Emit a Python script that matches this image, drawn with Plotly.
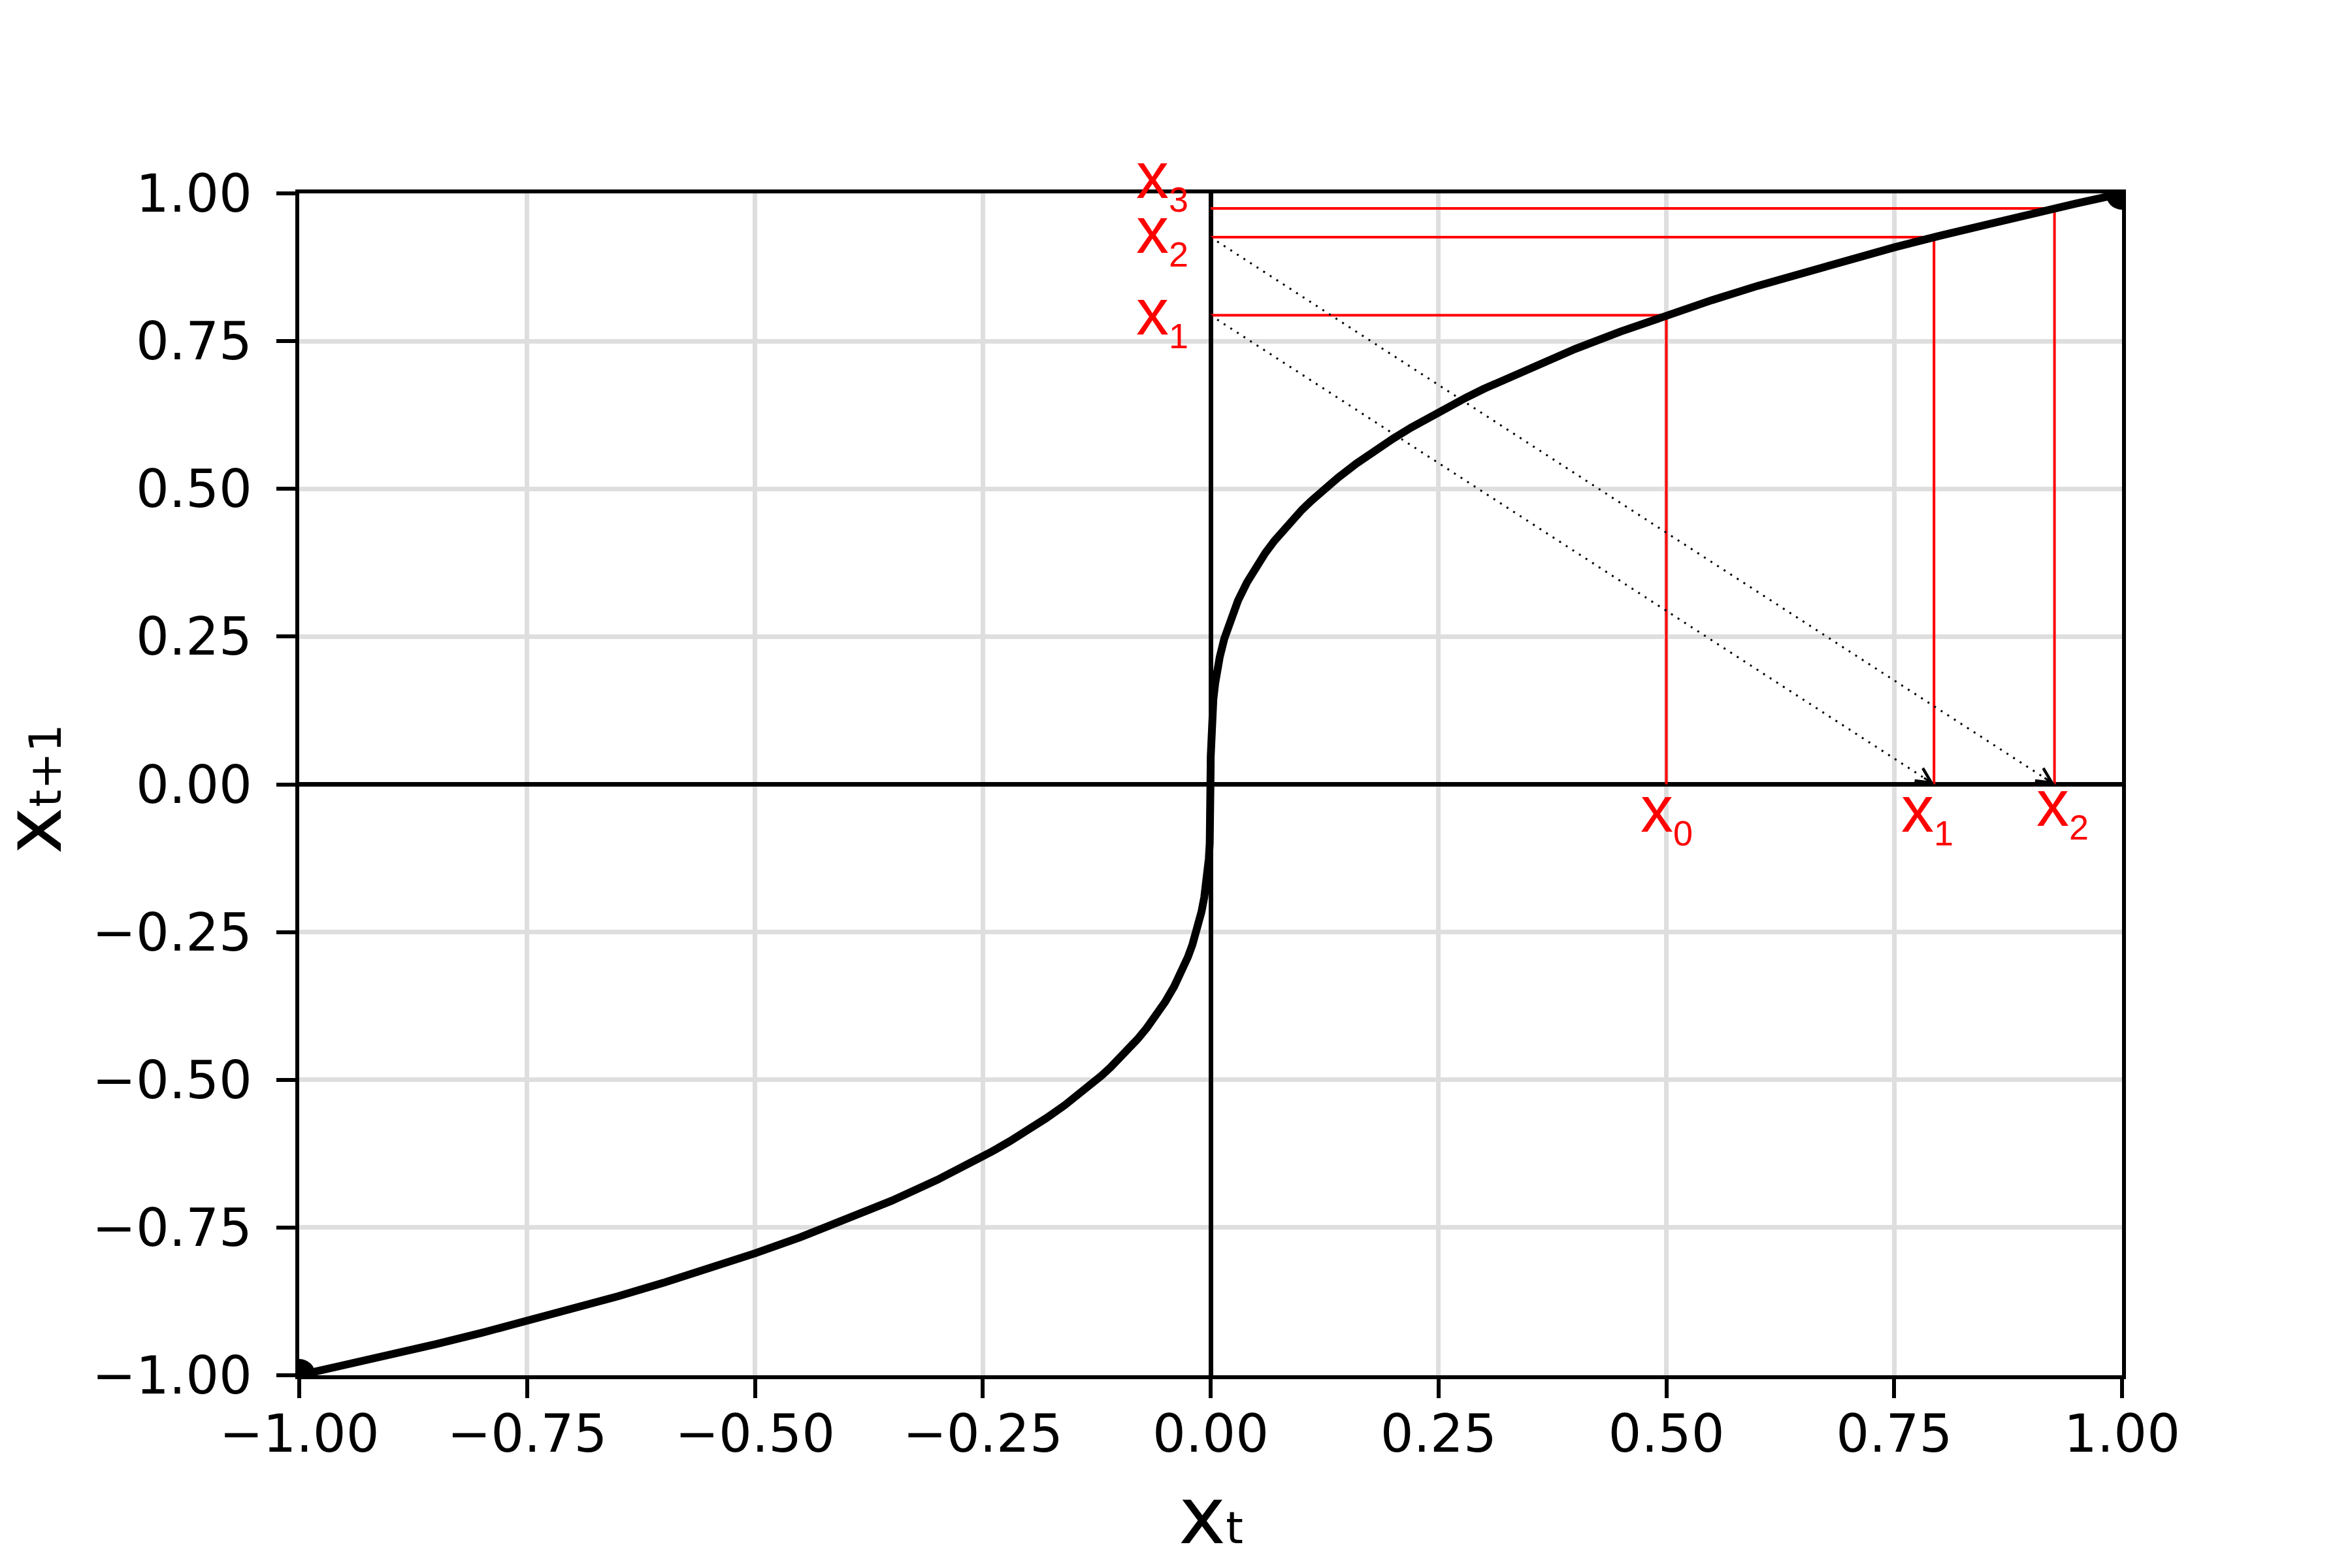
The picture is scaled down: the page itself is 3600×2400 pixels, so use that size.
import plotly.graph_objects as go

# curve points (x_t, x_t+1)
curve_x = [-1.0, -0.95, -0.9, -0.85, -0.8, -0.75, -0.7, -0.65, -0.6, -0.55, -0.5, -0.45,
           -0.4, -0.35, -0.3, -0.28, -0.26, -0.24, -0.22, -0.2, -0.18, -0.16, -0.14, -0.12,
           -0.11, -0.1, -0.09, -0.08, -0.07, -0.06, -0.05, -0.04, -0.03, -0.025, -0.02,
           -0.015, -0.01, -0.007, -0.005, -0.003, -0.002, -0.001, -0.0005, -0.0002,
           -0.0001, -0.00003, -0.00001, 0.0,
           0.00001, 0.00003, 0.0001, 0.0002, 0.0005, 0.001, 0.002, 0.003, 0.005, 0.007,
           0.01, 0.015, 0.02, 0.025, 0.03, 0.04, 0.05, 0.06, 0.07, 0.08, 0.09, 0.1, 0.11,
           0.12, 0.14, 0.16, 0.18, 0.2, 0.22, 0.24, 0.26, 0.28, 0.3, 0.35, 0.4, 0.45, 0.5,
           0.55, 0.6, 0.65, 0.7, 0.75, 0.8, 0.85, 0.9, 0.95, 1.0]
curve_y = [-1.0, -0.983, -0.9655, -0.9473, -0.9283, -0.9086, -0.8879, -0.8662, -0.8434,
           -0.8193, -0.7937, -0.7663, -0.7368, -0.7047, -0.6694, -0.6542, -0.6383, -0.6214,
           -0.6037, -0.5848, -0.5646, -0.5429, -0.5192, -0.4932, -0.4791, -0.4642, -0.4481,
           -0.4309, -0.4121, -0.3915, -0.3684, -0.342, -0.3107, -0.2924, -0.2714, -0.2466,
           -0.2154, -0.1913, -0.171, -0.1442, -0.126, -0.1, -0.0794, -0.0585, -0.0464,
           -0.0311, -0.0215, 0.0,
           0.0215, 0.0311, 0.0464, 0.0585, 0.0794, 0.1, 0.126, 0.1442, 0.171, 0.1913,
           0.2154, 0.2466, 0.2714, 0.2924, 0.3107, 0.342, 0.3684, 0.3915, 0.4121, 0.4309,
           0.4481, 0.4642, 0.4791, 0.4932, 0.5192, 0.5429, 0.5646, 0.5848, 0.6037, 0.6214,
           0.6383, 0.6542, 0.6694, 0.7047, 0.7368, 0.7663, 0.7937, 0.8193, 0.8434, 0.8662,
           0.8879, 0.9086, 0.9283, 0.9473, 0.9655, 0.983, 1.0]

# end points of the map
end_x = [-1.0, 1.0]
end_y = [-1.0, 1.0]

# cobweb iterates x0 -> x1 -> x2 -> x3
iterates = [0.5, 0.7937, 0.9259, 0.9746]

# label text and where it sits (x of left edge, y of centre)
bottom_labels = ["x<sub><span style='font-size:54px'>0</span></sub>",
                 "x<sub><span style='font-size:54px'>1</span></sub>",
                 "x<sub><span style='font-size:54px'>2</span></sub>"]
bottom_pos = [(0.47, -0.047), (0.756, -0.047), (0.905, -0.038)]
left_labels = ["x<sub><span style='font-size:54px'>1</span></sub>",
               "x<sub><span style='font-size:54px'>2</span></sub>",
               "x<sub><span style='font-size:54px'>3</span></sub>"]
left_pos = [(-0.083, 0.794), (-0.083, 0.932), (-0.083, 1.0)]
left_shift = [0, 0, 23]

tick_vals = [-1.0, -0.75, -0.5, -0.25, 0.0, 0.25, 0.5, 0.75, 1.0]

RED = "#ff0000"

fig = go.Figure()

### Cobweb: vertical up to the curve, horizontal across to the y axis
for i in range(3):
    xa, xb = iterates[i], iterates[i + 1]
    fig.add_trace(go.Scatter(x=[xa, xa, 0.0], y=[0.0, xb, xb], mode="lines",
                             line=dict(color=RED, width=4), hoverinfo="skip"))

### Dotted projections back to the x axis
for xa in iterates[1:3]:
    fig.add_trace(go.Scatter(x=[0.0, xa], y=[xa, 0.0], mode="lines",
                             line=dict(color="black", width=3, dash="3px,9px"),
                             hoverinfo="skip"))

fig.add_trace(go.Scatter(x=curve_x, y=curve_y, mode="lines",
                         line=dict(color="black", width=12), hoverinfo="skip"))
fig.add_trace(go.Scatter(x=end_x, y=end_y, mode="markers",
                         marker=dict(color="black", size=50), cliponaxis=True,
                         hoverinfo="skip"))

annotations = []
for xa in iterates[1:3]:
    annotations.append(dict(x=xa, y=0.0, ax=xa - 0.012, ay=0.012, axref="x", ayref="y",
                            xref="x", yref="y", text="", showarrow=True, arrowhead=5,
                            arrowwidth=3, arrowsize=1.5, arrowcolor="black", standoff=0))

shifts = [0, 0, 0] + left_shift
for txt, (px, py), dy in zip(bottom_labels + left_labels, bottom_pos + left_pos, shifts):
    annotations.append(dict(x=px, y=py, xref="x", yref="y", text=txt, showarrow=False,
                            xanchor="left", yanchor="middle", yshift=dy,
                            font=dict(family="Liberation Sans", size=100, color=RED)))

### Axis titles
annotations.append(dict(x=0.5, y=-0.119, xref="paper", yref="paper", showarrow=False,
                        text="x<span style='font-size:68px'>t</span>",
                        xanchor="center", yanchor="middle",
                        font=dict(family="DejaVu Sans", size=122, color="black")))
annotations.append(dict(x=-0.146, y=0.496, xref="paper", yref="paper", showarrow=False,
                        text="x<span style='font-size:68px'>t+1</span>", textangle=-90,
                        xanchor="center", yanchor="middle",
                        font=dict(family="DejaVu Sans", size=122, color="black")))

axis_style = dict(range=[-1, 1], tickvals=tick_vals, tickformat=".2f",
                  showgrid=True, gridcolor="#dedede", gridwidth=6.5,
                  zeroline=True, zerolinecolor="black", zerolinewidth=7,
                  showline=True, linecolor="black", linewidth=6, mirror=True,
                  ticks="outside", ticklen=29, tickwidth=6, tickcolor="black",
                  tickfont=dict(family="DejaVu Sans", size=80, color="black"))

fig.update_layout(
    width=3600, height=2400,
    margin=dict(l=450, r=360, t=288, b=303, autoexpand=False),
    paper_bgcolor="white", plot_bgcolor="white",
    showlegend=False,
    xaxis=dict(axis_style, ticklabelstandoff=-14),
    yaxis=dict(axis_style, ticklabelstandoff=21),
    annotations=annotations,
)

fig.write_html("out.html")
